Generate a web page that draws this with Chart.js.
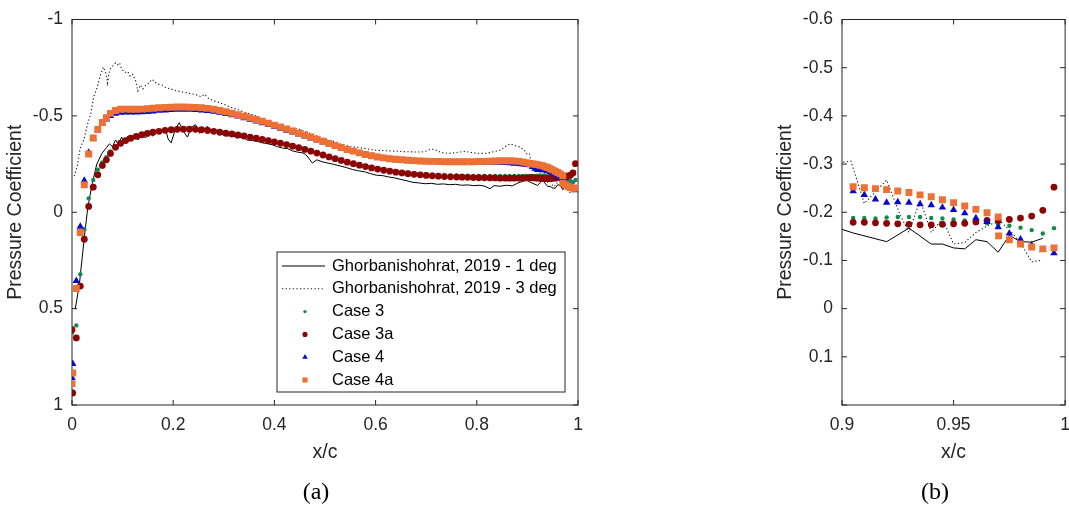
<!DOCTYPE html>
<html>
<head>
<meta charset="utf-8">
<script src="https://cdn.jsdelivr.net/npm/chart.js@4.4.1/dist/chart.umd.min.js"></script>
<style>
  html, body { margin: 0; padding: 0; background: #fff; }
  body { width: 1069px; height: 506px; position: relative; overflow: hidden; }
  canvas { position: absolute; top: 0; }
  #chartA { left: 0; }
  #chartB { left: 770px; }
  .cap {
    position: absolute; top: 479px; line-height: 24px;
    font-family: "Liberation Serif", "Times New Roman", serif; font-size: 24px;
    color: #000; transform: translateX(-50%);
  }
</style>
</head>
<body>
<canvas id="chartA" width="600" height="506"></canvas>
<canvas id="chartB" width="310" height="506"></canvas>
<div class="cap" style="left:316px">(a)</div>
<div class="cap" style="left:935px">(b)</div>
<script>
"use strict";

// ── Data ─────────────────────────────────────────────────────────────────────

// x/c stations of the simulated cases (upper surface)
const XG = [
  0, 0.0015, 0.0085, 0.0164, 0.0243, 0.033, 0.042, 0.051, 0.060, 0.068,
  0.076, 0.086, 0.096, 0.106, 0.116, 0.127, 0.138, 0.149, 0.160, 0.172,
  0.184, 0.196, 0.208, 0.220, 0.232, 0.244, 0.256, 0.268, 0.280, 0.292,
  0.304, 0.316, 0.328, 0.340, 0.352, 0.364, 0.376, 0.388, 0.400, 0.412,
  0.424, 0.436, 0.448, 0.460, 0.472, 0.484, 0.496, 0.508, 0.520, 0.532,
  0.544, 0.556, 0.568, 0.580, 0.592, 0.604, 0.616, 0.628, 0.640, 0.652,
  0.664, 0.676, 0.688, 0.700, 0.712, 0.724, 0.736, 0.748, 0.760, 0.771,
  0.782, 0.793, 0.804, 0.815, 0.826, 0.836, 0.846, 0.856, 0.865, 0.874,
  0.883, 0.891, 0.898, 0.905, 0.910, 0.915, 0.920, 0.925, 0.930, 0.935,
  0.940, 0.945, 0.950, 0.955, 0.960, 0.965, 0.970, 0.975, 0.980, 0.985,
  0.990, 0.995
];

const CASE3_CP = [
  0.626, 0.930, 0.587, 0.322, 0.088, -0.072, -0.167, -0.221, -0.258, -0.285,
  -0.315, -0.342, -0.362, -0.376, -0.387, -0.396, -0.404, -0.411, -0.417, -0.422,
  -0.426, -0.429, -0.431, -0.432, -0.432, -0.432, -0.430, -0.426, -0.422, -0.417,
  -0.412, -0.408, -0.403, -0.398, -0.392, -0.386, -0.380, -0.373, -0.367, -0.360,
  -0.353, -0.345, -0.337, -0.328, -0.319, -0.309, -0.299, -0.289, -0.280, -0.271,
  -0.262, -0.254, -0.246, -0.239, -0.232, -0.227, -0.221, -0.216, -0.212, -0.208,
  -0.205, -0.202, -0.199, -0.197, -0.195, -0.193, -0.192, -0.191, -0.190, -0.189,
  -0.189, -0.188, -0.188, -0.188, -0.188, -0.188, -0.188, -0.188, -0.188, -0.188,
  -0.188, -0.188, -0.188, -0.188, -0.188, -0.187, -0.189, -0.190, -0.190, -0.190,
  -0.188, -0.187, -0.185, -0.183, -0.181, -0.177, -0.175, -0.172, -0.168, -0.163,
  -0.156, -0.167
];

const CASE3A_CP = [
  0.609, 0.938, 0.652, 0.383, 0.140, -0.030, -0.130, -0.194, -0.243, -0.272,
  -0.305, -0.337, -0.358, -0.372, -0.384, -0.394, -0.402, -0.409, -0.415, -0.420,
  -0.425, -0.428, -0.430, -0.431, -0.431, -0.430, -0.428, -0.424, -0.420, -0.415,
  -0.410, -0.406, -0.401, -0.396, -0.390, -0.384, -0.378, -0.371, -0.365, -0.358,
  -0.351, -0.343, -0.335, -0.326, -0.317, -0.307, -0.297, -0.287, -0.278, -0.269,
  -0.260, -0.252, -0.244, -0.237, -0.230, -0.224, -0.218, -0.213, -0.208, -0.204,
  -0.200, -0.197, -0.194, -0.191, -0.189, -0.187, -0.185, -0.184, -0.183, -0.182,
  -0.181, -0.180, -0.179, -0.179, -0.178, -0.178, -0.177, -0.177, -0.177, -0.177,
  -0.177, -0.178, -0.178, -0.179, -0.179, -0.178, -0.177, -0.176, -0.175, -0.174,
  -0.174, -0.175, -0.176, -0.177, -0.180, -0.183, -0.183, -0.185, -0.188, -0.192,
  -0.204, -0.252
];

const CASE4_CP = [
  0.859, 0.786, 0.356, 0.074, -0.164, -0.310, -0.383, -0.425, -0.458, -0.482,
  -0.500, -0.512, -0.517, -0.518, -0.518, -0.518, -0.519, -0.521, -0.524, -0.527,
  -0.529, -0.531, -0.532, -0.532, -0.532, -0.531, -0.529, -0.526, -0.522, -0.517,
  -0.511, -0.504, -0.497, -0.489, -0.481, -0.472, -0.463, -0.454, -0.444, -0.434,
  -0.424, -0.414, -0.404, -0.394, -0.384, -0.373, -0.363, -0.352, -0.342, -0.332,
  -0.322, -0.313, -0.305, -0.297, -0.290, -0.284, -0.279, -0.275, -0.271, -0.268,
  -0.266, -0.264, -0.262, -0.261, -0.260, -0.259, -0.258, -0.258, -0.258, -0.258,
  -0.258, -0.258, -0.258, -0.258, -0.258, -0.258, -0.257, -0.256, -0.255, -0.253,
  -0.251, -0.249, -0.246, -0.244, -0.236, -0.227, -0.220, -0.221, -0.220, -0.217,
  -0.215, -0.210, -0.205, -0.198, -0.188, -0.180, -0.169, -0.156, -0.144, -0.132,
  -0.122, -0.115
];

const CASE4A_CP = [
  0.889, 0.834, 0.396, 0.105, -0.142, -0.302, -0.385, -0.430, -0.466, -0.491,
  -0.513, -0.528, -0.534, -0.535, -0.534, -0.534, -0.535, -0.537, -0.540, -0.542,
  -0.544, -0.545, -0.546, -0.546, -0.545, -0.544, -0.542, -0.539, -0.534, -0.528,
  -0.521, -0.514, -0.506, -0.498, -0.490, -0.481, -0.472, -0.462, -0.452, -0.442,
  -0.432, -0.422, -0.411, -0.401, -0.390, -0.379, -0.368, -0.357, -0.346, -0.336,
  -0.326, -0.317, -0.308, -0.300, -0.293, -0.287, -0.282, -0.278, -0.275, -0.272,
  -0.270, -0.268, -0.266, -0.265, -0.264, -0.263, -0.262, -0.262, -0.262, -0.262,
  -0.262, -0.262, -0.263, -0.264, -0.265, -0.266, -0.267, -0.267, -0.267, -0.266,
  -0.264, -0.261, -0.257, -0.253, -0.251, -0.249, -0.247, -0.244, -0.241, -0.236,
  -0.232, -0.226, -0.220, -0.213, -0.206, -0.199, -0.190, -0.143, -0.134, -0.128,
  -0.124, -0.126
];
// second Case 4a station near x/c = 0.97
const CASE4A_EXTRA_X = [0.9702];
const CASE4A_EXTRA_CP = [-0.151];

// Ghorbanishohrat, 2019 - 1 deg
const EXP1_X = [
  0.0065, 0.0144, 0.0243, 0.031, 0.040, 0.049, 0.059, 0.068, 0.074, 0.080,
  0.086, 0.092, 0.098, 0.104, 0.110, 0.117, 0.124, 0.131, 0.138, 0.145,
  0.152, 0.160, 0.168, 0.176, 0.184, 0.190, 0.196, 0.204, 0.212, 0.220,
  0.228, 0.236, 0.244, 0.252, 0.260, 0.268, 0.276, 0.286, 0.296, 0.306,
  0.316, 0.326, 0.336, 0.346, 0.356, 0.366, 0.376, 0.386, 0.396, 0.406,
  0.416, 0.426, 0.436, 0.446, 0.456, 0.462, 0.468, 0.475, 0.484, 0.494,
  0.506, 0.518, 0.530, 0.542, 0.554, 0.566, 0.578, 0.590, 0.602, 0.614,
  0.626, 0.638, 0.650, 0.662, 0.674, 0.686, 0.698, 0.710, 0.722, 0.734,
  0.746, 0.758, 0.770, 0.782, 0.794, 0.806, 0.816, 0.826, 0.834, 0.846,
  0.858, 0.870, 0.880, 0.890, 0.899, 0.905, 0.920, 0.930, 0.940, 0.945,
  0.950, 0.955, 0.960, 0.965, 0.970, 0.975, 0.980, 0.985, 0.990
];
const EXP1_CP = [
  0.50, 0.378, 0.132, -0.02, -0.15, -0.25, -0.305, -0.335, -0.355, -0.34,
  -0.375, -0.35, -0.39, -0.36, -0.395, -0.37, -0.405, -0.375, -0.41, -0.385,
  -0.41, -0.395, -0.425, -0.41, -0.44, -0.38, -0.36, -0.43, -0.465, -0.42,
  -0.39, -0.44, -0.455, -0.41, -0.43, -0.445, -0.42, -0.425, -0.405, -0.395,
  -0.4, -0.385, -0.39, -0.375, -0.372, -0.368, -0.36, -0.356, -0.35, -0.34,
  -0.333, -0.33, -0.318, -0.312, -0.308, -0.3, -0.28, -0.255, -0.272, -0.262,
  -0.255, -0.248, -0.24, -0.232, -0.222, -0.215, -0.21, -0.2, -0.192, -0.19,
  -0.183, -0.178, -0.17, -0.163, -0.155, -0.152, -0.148, -0.15, -0.145, -0.147,
  -0.143, -0.145, -0.14, -0.142, -0.138, -0.14, -0.135, -0.122, -0.138, -0.135,
  -0.14, -0.137, -0.15, -0.16, -0.166, -0.157, -0.139, -0.167, -0.134, -0.134,
  -0.126, -0.124, -0.143, -0.139, -0.117, -0.152, -0.139, -0.138, -0.146
];

// Ghorbanishohrat, 2019 - 3 deg
const EXP3_X = [
  0.0045, 0.0105, 0.016, 0.0237, 0.030, 0.037, 0.043, 0.050, 0.056, 0.062,
  0.067, 0.070, 0.073, 0.076, 0.081, 0.086, 0.090, 0.094, 0.098, 0.104,
  0.110, 0.115, 0.120, 0.126, 0.130, 0.135, 0.140, 0.146, 0.152, 0.158,
  0.164, 0.170, 0.178, 0.186, 0.195, 0.205, 0.215, 0.225, 0.235, 0.245,
  0.255, 0.262, 0.270, 0.280, 0.290, 0.300, 0.310, 0.320, 0.330, 0.340,
  0.350, 0.360, 0.370, 0.380, 0.390, 0.400, 0.410, 0.420, 0.430, 0.440,
  0.450, 0.460, 0.470, 0.480, 0.490, 0.500, 0.510, 0.520, 0.530, 0.540,
  0.550, 0.560, 0.570, 0.580, 0.590, 0.600, 0.615, 0.630, 0.645, 0.660,
  0.675, 0.690, 0.700, 0.710, 0.720, 0.730, 0.745, 0.760, 0.775, 0.790,
  0.805, 0.820, 0.835, 0.847, 0.856, 0.866, 0.876, 0.886, 0.894, 0.899,
  0.904, 0.910, 0.920, 0.926, 0.930, 0.935, 0.940, 0.945, 0.950, 0.955,
  0.960, 0.966, 0.971, 0.976, 0.980, 0.985, 0.989
];
const EXP3_CP = [
  -0.187, -0.24, -0.33, -0.38, -0.45, -0.51, -0.6, -0.65, -0.71, -0.753,
  -0.72, -0.67, -0.72, -0.745, -0.76, -0.775, -0.765, -0.775, -0.745, -0.725,
  -0.73, -0.705, -0.715, -0.68, -0.63, -0.66, -0.64, -0.66, -0.67, -0.69,
  -0.675, -0.665, -0.66, -0.645, -0.64, -0.632, -0.625, -0.62, -0.615, -0.61,
  -0.6, -0.612, -0.59, -0.578, -0.57, -0.56, -0.548, -0.54, -0.53, -0.52,
  -0.512, -0.505, -0.49, -0.475, -0.462, -0.455, -0.445, -0.44, -0.437, -0.435,
  -0.43, -0.42, -0.41, -0.4, -0.39, -0.38, -0.373, -0.365, -0.355, -0.348,
  -0.342, -0.338, -0.334, -0.33, -0.326, -0.322, -0.32, -0.318, -0.316, -0.314,
  -0.313, -0.312, -0.318, -0.328, -0.322, -0.31, -0.305, -0.31, -0.316, -0.31,
  -0.305, -0.306, -0.315, -0.322, -0.34, -0.355, -0.345, -0.338, -0.322, -0.303,
  -0.306, -0.218, -0.267, -0.195, -0.158, -0.225, -0.158, -0.186, -0.134, -0.137,
  -0.158, -0.174, -0.181, -0.158, -0.137, -0.097, -0.1
];

const SERIES_LABELS = [
  "Ghorbanishohrat, 2019 - 1 deg",
  "Ghorbanishohrat, 2019 - 3 deg",
  "Case 3",
  "Case 3a",
  "Case 4",
  "Case 4a",
];

// ── Helpers ──────────────────────────────────────────────────────────────────

const FONT = '"Liberation Sans", Arial, Helvetica, sans-serif';
const INK = "#262626";

function pts(xs, ys) {
  const n = Math.min(xs.length, ys.length);
  const out = [];
  for (let i = 0; i < n; i++) out.push({ x: xs[i], y: ys[i] });
  return out;
}

function fmtTick(hideAbove) {
  return v => {
    const r = Math.round(v * 100) / 100;
    if (hideAbove !== undefined && r > hideAbove) return "";
    return String(r);
  };
}

function drawMarker(ctx, style, x, y, r, color) {
  ctx.save();
  ctx.fillStyle = color;
  ctx.beginPath();
  if (style === "triangle") {
    ctx.moveTo(x, y - r);
    ctx.lineTo(x + r * 0.866, y + r * 0.5);
    ctx.lineTo(x - r * 0.866, y + r * 0.5);
    ctx.closePath();
  } else if (style === "rect") {
    const s = r / Math.SQRT2;
    ctx.rect(x - s, y - s, 2 * s, 2 * s);
  } else {
    ctx.arc(x, y, r, 0, Math.PI * 2);
  }
  ctx.fill();
  ctx.restore();
}

function makeDatasets() {
  return [
    { label: SERIES_LABELS[0], data: pts(EXP1_X, EXP1_CP), showLine: true,
      borderColor: "#000", borderWidth: 1, pointRadius: 0, tension: 0, order: 6 },
    { label: SERIES_LABELS[1], data: pts(EXP3_X, EXP3_CP), showLine: true,
      borderColor: "#111", borderWidth: 1.1, borderDash: [1.2, 2.4], pointRadius: 0, tension: 0, order: 5 },
    { label: SERIES_LABELS[2], data: pts(XG, CASE3_CP), showLine: false, pointStyle: "circle",
      pointRadius: 2.2, backgroundColor: "#138a4a", pointBorderWidth: 0, order: 4 },
    { label: SERIES_LABELS[3], data: pts(XG, CASE3A_CP), showLine: false, pointStyle: "circle",
      pointRadius: 3.4, backgroundColor: "#8b0505", pointBorderWidth: 0, order: 3 },
    { label: SERIES_LABELS[4], data: pts(XG, CASE4_CP), showLine: false, pointStyle: "triangle",
      pointRadius: 4.3, backgroundColor: "#0808cc", pointBorderWidth: 0, order: 2 },
    { label: SERIES_LABELS[5],
      data: pts(XG, CASE4A_CP).concat(pts(CASE4A_EXTRA_X, CASE4A_EXTRA_CP)),
      showLine: false, pointStyle: "rect",
      pointRadius: 4.9, backgroundColor: "#ef7034", pointBorderWidth: 0, order: 1 },
  ];
}

// ── Plugins ──────────────────────────────────────────────────────────────────

// box round the axes with inward ticks on all four sides
const framePlugin = {
  id: "frame",
  beforeDatasetsDraw(chart) {
    const { ctx, chartArea: a, scales: { x, y } } = chart;
    const len = 5;
    ctx.save();
    ctx.strokeStyle = INK;
    ctx.lineWidth = 1;
    ctx.strokeRect(a.left, a.top, a.right - a.left, a.bottom - a.top);
    ctx.beginPath();
    x.ticks.forEach(t => {
      const px = x.getPixelForValue(t.value);
      ctx.moveTo(px, a.bottom); ctx.lineTo(px, a.bottom - len);
      ctx.moveTo(px, a.top); ctx.lineTo(px, a.top + len);
    });
    y.ticks.forEach(t => {
      const py = y.getPixelForValue(t.value);
      ctx.moveTo(a.left, py); ctx.lineTo(a.left + len, py);
      ctx.moveTo(a.right, py); ctx.lineTo(a.right - len, py);
    });
    ctx.stroke();
    ctx.restore();
  },
};

// MATLAB-style legend box in the lower right of the axes
const boxLegend = {
  id: "boxLegend",
  afterDraw(chart, args, opts) {
    if (!opts || !opts.show) return;
    const { ctx, chartArea: a } = chart;
    const left = a.right - opts.inset - opts.width;
    const top = a.bottom - opts.inset - opts.height;
    ctx.save();
    ctx.fillStyle = "#fff";
    ctx.fillRect(left, top, opts.width, opts.height);
    ctx.strokeStyle = INK;
    ctx.lineWidth = 1;
    ctx.strokeRect(left, top, opts.width, opts.height);
    ctx.font = `${opts.fontSize}px ${FONT}`;
    ctx.textBaseline = "middle";
    chart.data.datasets.forEach((ds, i) => {
      const cy = top + opts.firstRow + i * opts.rowGap;
      if (ds.showLine) {
        ctx.save();
        ctx.strokeStyle = ds.borderColor;
        ctx.lineWidth = ds.borderWidth;
        ctx.setLineDash(ds.borderDash || []);
        ctx.beginPath();
        ctx.moveTo(left + 5, cy);
        ctx.lineTo(left + 48, cy);
        ctx.stroke();
        ctx.restore();
      } else {
        drawMarker(ctx, ds.pointStyle, left + 28, cy, ds.pointRadius * 0.75, ds.backgroundColor);
      }
      ctx.fillStyle = "#000";
      ctx.fillText(ds.label, left + 55, cy);
    });
    ctx.restore();
  },
};

// ── Charts ───────────────────────────────────────────────────────────────────

function buildChart(canvasId, cfg) {
  return new Chart(document.getElementById(canvasId), {
    type: "scatter",
    data: { datasets: makeDatasets() },
    options: {
      responsive: false,
      animation: false,
      devicePixelRatio: 1,
      layout: { padding: cfg.padding },
      plugins: {
        legend: { display: false },
        tooltip: { enabled: false },
        boxLegend: cfg.legend,
      },
      scales: {
        x: {
          type: "linear",
          min: cfg.xMin, max: cfg.xMax,
          ticks: { stepSize: cfg.xStep, padding: 10, color: INK,
                   font: { family: FONT, size: 17.5 }, callback: fmtTick() },
          grid: { display: false, drawTicks: false },
          border: { display: false },
          title: { display: true, text: "x/c", color: INK, font: { family: FONT, size: 19.5 } },
          afterFit: s => { s.height = 63; },
        },
        y: {
          type: "linear",
          reverse: true,
          min: cfg.yMin, max: cfg.yMax,
          ticks: { stepSize: cfg.yStep, padding: 9, color: INK,
                   font: { family: FONT, size: 17.5 }, callback: fmtTick(cfg.yHideAbove) },
          grid: { display: false, drawTicks: false },
          border: { display: false },
          title: { display: true, text: "Pressure Coefficient", color: INK,
                   font: { family: FONT, size: 19.5 } },
          afterFit: s => { s.width = 72; },
        },
      },
    },
    plugins: [framePlugin, boxLegend],
  });
}

buildChart("chartA", {
  padding: { left: 0, top: 10, right: 22, bottom: 38 },
  xMin: 0, xMax: 1, xStep: 0.2,
  yMin: -1, yMax: 1, yStep: 0.5,
  legend: { show: true, width: 288, height: 140, inset: 13, firstRow: 14, rowGap: 22.8, fontSize: 16.5 },
});

buildChart("chartB", {
  padding: { left: 0, top: 10, right: 13, bottom: 38 },
  xMin: 0.9, xMax: 1, xStep: 0.05,
  yMin: -0.6, yMax: 0.2, yStep: 0.1, yHideAbove: 0.15,
  legend: { show: false },
});
</script>
</body>
</html>
